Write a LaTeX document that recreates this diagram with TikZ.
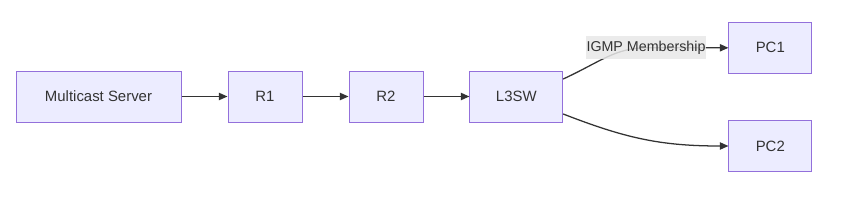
\documentclass[tikz,border=0pt]{standalone}
\usepackage{fontspec}
\setmainfont{Liberation Sans}
\usetikzlibrary{arrows.meta,calc}
\definecolor{nodefill}{HTML}{ECECFF}
\definecolor{nodeline}{HTML}{9370DB}
\definecolor{edgecol}{HTML}{333333}
\definecolor{labbg}{HTML}{E8E8E8}
\definecolor{txt}{HTML}{333333}
\begin{document}
\begin{tikzpicture}[x=0.75pt,y=-0.75pt,
  box/.style={draw=nodeline,fill=nodefill,line width=0.75pt,minimum height=38.25pt,inner sep=0pt,text=txt,font=\fontsize{11.2}{13}\selectfont},
  conn/.style={draw=edgecol,line width=0.95pt,-{Triangle[length=6.5pt,width=5.5pt]}},
  lbl/.style={fill=labbg,fill opacity=0.85,text opacity=1,text=txt,inner sep=0pt,minimum width=89.7pt,minimum height=17pt,font=\fontsize{10.7}{12}\selectfont}]
\useasboundingbox (0,0) rectangle (860,200);
\node[box,minimum width=123.75pt] (ms) at (98.5,96.5) {Multicast Server};
\node[box,minimum width=55.5pt] (r1) at (265,96.5) {R1};
\node[box,minimum width=55.5pt] (r2) at (386,96.5) {R2};
\node[box,minimum width=69.5pt] (l3) at (516.3,96.5) {L3SW};
\node[box,minimum width=62pt] (pc1) at (770.3,47.8) {PC1};
\node[box,minimum width=62pt] (pc2) at (770.3,146) {PC2};
\coordinate (labc) at (646,47.8);
\draw[conn] (ms) -- (r1);
\draw[conn] (r1) -- (r2);
\draw[conn] (r2) -- (l3);
\draw[conn] ([yshift=13.1pt]l3.east) .. controls (600,62) and (615,48) .. (labc) -- (pc1.west);
\draw[conn] ([yshift=-13.1pt]l3.east) .. controls (625,138) and (660,146) .. (pc2.west);
\node[lbl] (lab) at (labc) {IGMP Membership};
\end{tikzpicture}
\end{document}
